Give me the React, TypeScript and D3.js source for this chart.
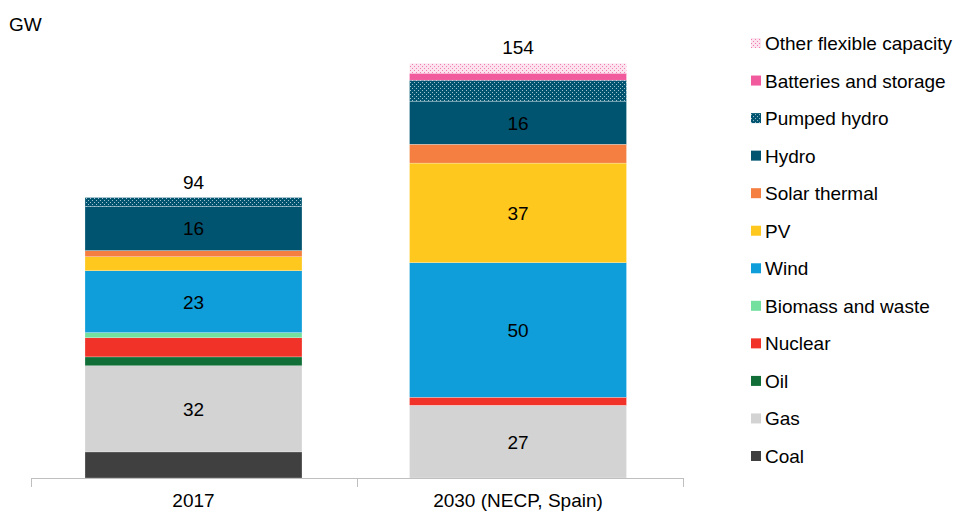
import React from "react";
import * as d3 from "d3";

const categories = ["2017", "2030 (NECP, Spain)"];
const seriesNames = [
  "Coal",
  "Gas",
  "Oil",
  "Nuclear",
  "Biomass and waste",
  "Wind",
  "PV",
  "Solar thermal",
  "Hydro",
  "Pumped hydro",
  "Batteries and storage",
  "Other flexible capacity",
];
const values2017 = [9.7, 32, 3.3, 7.1, 1.9, 23, 5.2, 2.3, 16.4, 3.3, 0, 0];
const values2030 = [0, 27, 0, 3, 0, 50, 37, 7, 16, 7.8, 2.6, 3.7];
const totalLabels = ["94", "154"];
const yMax = 154;

const colors: Record<string, string> = {
  Coal: "#404040",
  Gas: "#d3d3d3",
  Oil: "#126e37",
  Nuclear: "#f03228",
  "Biomass and waste": "#74e0a0",
  Wind: "#0f9ed9",
  PV: "#fec81e",
  "Solar thermal": "#f47f40",
  Hydro: "#005470",
  "Pumped hydro": "url(#patPumped)",
  "Batteries and storage": "#f25a9e",
  "Other flexible capacity": "url(#patOther)",
};

export default function App() {
  const W = 955;
  const H = 511;
  const font = "'Liberation Sans', Arial, sans-serif";
  const fs = 19;
  const x = d3.scaleBand<string>().domain(categories).range([31.25, 680.25]).paddingInner(0.3313).paddingOuter(0.1656);
  const y = d3.scaleLinear().domain([0, yMax]).range([478, 63.5]);
  const rows = categories.map((c, i) => {
    const r: any = { cat: c };
    seriesNames.forEach((s, j) => (r[s] = (i === 0 ? values2017 : values2030)[j]));
    return r;
  });
  const stacked = d3.stack<any>().keys(seriesNames)(rows);
  const legendOrder = [...seriesNames].reverse();
  const legendY = d3.scalePoint<string>().domain(legendOrder).range([43, 456]);

  return (
    <svg width={W} height={H} style={{ position: "absolute", left: 0, top: 0 }} fontFamily={font}>
      <defs>
        <pattern id="patPumped" patternUnits="userSpaceOnUse" width="4" height="4">
          <rect width="4" height="4" fill="#005470" />
          <rect x="0" y="0" width="1" height="1" fill="#9fc3cf" />
          <rect x="2" y="2" width="1" height="1" fill="#9fc3cf" />
        </pattern>
        <pattern id="patOther" patternUnits="userSpaceOnUse" width="4" height="4">
          <rect width="4" height="4" fill="#fce4ef" />
          <rect x="0" y="0" width="1" height="1" fill="#f27ab0" />
          <rect x="2" y="2" width="1" height="1" fill="#f27ab0" />
        </pattern>
      </defs>
      <text x={9} y={31} fontSize={fs} fill="#000">GW</text>
      {stacked.map((layer) => (
        <g key={layer.key}>
          {layer.map((d, i) => {
            const v = d[1] - d[0];
            if (v <= 0) return null;
            const cat = categories[i];
            const y0 = y(d[0]);
            const y1 = y(d[1]);
            return (
              <g key={cat}>
                <rect
                  x={x(cat)}
                  width={x.bandwidth()}
                  y={y1}
                  height={y0 - y1}
                  fill={colors[layer.key]}
                  stroke="#ffffff"
                  strokeOpacity={0.5}
                  strokeWidth={0.5}
                />
                {v >= 12 && (
                  <text
                    x={(x(cat) as number) + x.bandwidth() / 2}
                    y={(y0 + y1) / 2 + 7}
                    textAnchor="middle"
                    fontSize={fs}
                    fill="#000"
                  >
                    {Math.round(v)}
                  </text>
                )}
              </g>
            );
          })}
        </g>
      ))}
      {categories.map((c, i) => {
        const top = stacked[stacked.length - 1][i][1];
        return (
          <text key={c} x={(x(c) as number) + x.bandwidth() / 2} y={y(top) - 9} textAnchor="middle" fontSize={fs} fill="#000">
            {totalLabels[i]}
          </text>
        );
      })}
      <line x1={31} x2={683} y1={478.5} y2={478.5} stroke="#bfbfbf" strokeWidth={1} />
      {[31, 357, 683].map((t) => (
        <line key={t} x1={t + 0.5} x2={t + 0.5} y1={478} y2={487} stroke="#bfbfbf" strokeWidth={1} />
      ))}
      {categories.map((c) => (
        <text key={c} x={(x(c) as number) + x.bandwidth() / 2} y={507} textAnchor="middle" fontSize={fs} fill="#000">
          {c}
        </text>
      ))}
      {legendOrder.map((s) => (
        <g key={s} transform={`translate(751,${legendY(s)})`}>
          <rect x={0} y={-5} width={10} height={10} fill={colors[s]} />
          <text x={14} y={7} fontSize={fs} fill="#000">{s}</text>
        </g>
      ))}
    </svg>
  );
}
